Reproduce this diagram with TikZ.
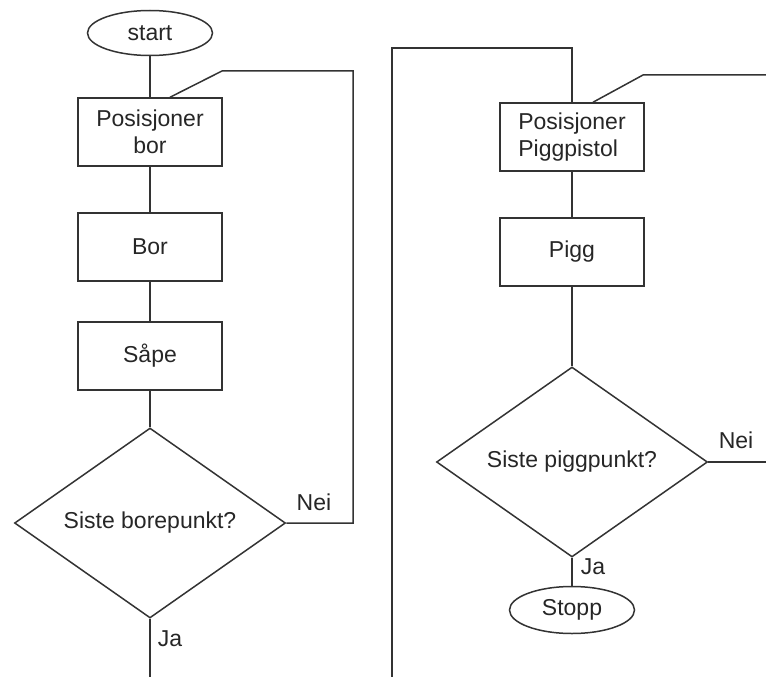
\documentclass[tikz,border=0pt]{standalone}
\usepackage{fontspec}
\setmainfont{Liberation Sans}
\usetikzlibrary{shapes.geometric}

\begin{document}
\begin{tikzpicture}[x=1pt,y=-1pt,line width=1.5pt,draw=black!80,
  every node/.style={font=\fontsize{23}{27}\selectfont,text=black!85,inner sep=0pt},
  prosess/.style={draw,rectangle,minimum width=144pt,minimum height=68pt},
  terminal/.style={draw,ellipse,minimum width=125pt,minimum height=45pt},
  valg/.style={draw,diamond,aspect=1.43,minimum width=271pt,minimum height=190pt}]
\useasboundingbox (0,0) rectangle (766,677);

\node[terminal] (start) at (150,33) {start};
\node[prosess,align=center] (posbor) at (150,132) {Posisjoner\\bor};
\node[prosess] (bor) at (150,247) {Bor};
\node[prosess] (saape) at (150,356) {Såpe};
\node[valg] (borslutt) at (150,523) {Siste borepunkt?};
\node (neiL) at (314,502) {Nei};
\node (jaL) at (170,639) {Ja};
\coordinate (borut) at (150,677);
\coordinate (hjorneL) at (353,71);
\coordinate (knekkL) at (222,71);

\draw (start) -- (posbor);
\draw (posbor) -- (bor);
\draw (bor) -- (saape);
\draw (saape) -- (borslutt);
\draw (borslutt) -- (borut);
\draw (borslutt.east) -| (hjorneL) -- (knekkL) -- ([xshift=20pt]posbor.north);

\node[prosess,align=left] (pospigg) at (572,137) {Posisjoner\\Piggpistol};
\node[prosess] (pigg) at (572,252) {Pigg};
\node[valg] (piggslutt) at (572,462) {Siste piggpunkt?};
\node[terminal,minimum height=47pt] (stopp) at (572,610) {Stopp};
\node (neiR) at (736,440) {Nei};
\node (jaR) at (593,567) {Ja};
\coordinate (toppH) at (572,48);
\coordinate (toppV) at (392,48);
\coordinate (bunnV) at (392,677);
\coordinate (neiut) at (766,462);
\coordinate (inn) at (766,75);
\coordinate (knekkR) at (643,75);

\draw (pospigg.north) -- (toppH) -- (toppV) -- (bunnV);
\draw (pospigg) -- (pigg);
\draw (pigg) -- (piggslutt);
\draw (piggslutt) -- (stopp);
\draw (piggslutt.east) -- (neiut);
\draw (inn) -- (knekkR) -- ([xshift=21pt]pospigg.north);

\end{tikzpicture}
\end{document}
